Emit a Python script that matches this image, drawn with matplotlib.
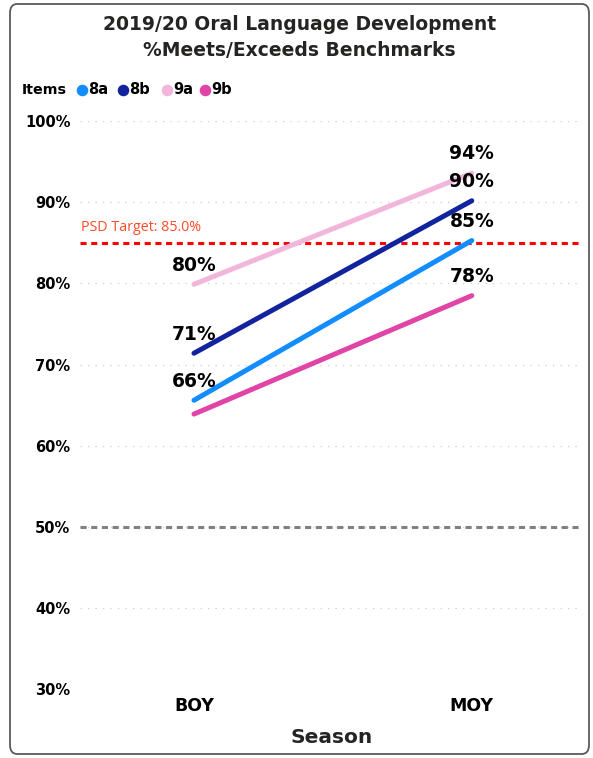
import matplotlib.pyplot as plt
from matplotlib.patches import FancyBboxPatch
from matplotlib.lines import Line2D

plt.rcParams['font.family'] = ['DejaVu Sans']

# Seasons and % meeting/exceeding benchmark per item
seasons = ['BOY', 'MOY']
items = ['8a', '8b', '9a', '9b']
pct_8a = [65.6, 85.3]
pct_8b = [71.4, 90.2]
pct_9a = [79.9, 93.6]
pct_9b = [63.9, 78.5]
# Labels shown above points (None = hidden)
labels_8a = ['66%', '85%']
labels_8b = ['71%', '90%']
labels_9a = ['80%', '94%']
labels_9b = [None, '78%']
target = 85.0
baseline = 50.0
yticks = [30, 40, 50, 60, 70, 80, 90, 100]

colors = ['#118DFF', '#12239E', '#F2B5DB', '#E044A7']
series = [pct_8a, pct_8b, pct_9a, pct_9b]
labels = [labels_8a, labels_8b, labels_9a, labels_9b]

W, H = 593, 758
fig = plt.figure(figsize=(W / 100, H / 100), dpi=100)
ax = fig.add_axes([0.135, 0.091, 0.848, 0.749])

# Rounded card border
fig.patches.append(FancyBboxPatch((10 / W, 4 / H), 579 / W, 750 / H,
                                  boxstyle='round,pad=0,rounding_size=0.012',
                                  transform=fig.transFigure, fill=False,
                                  edgecolor='#5A5A5A', linewidth=1.3))

x = list(range(len(seasons)))
for yv in yticks:
    ax.axhline(yv, color='#CFCFCF', linestyle=(0, (1, 5)), linewidth=0.9, zorder=0)

ax.axhline(baseline, color='#808080', linestyle=(0, (2, 1.5)), linewidth=2.2, zorder=1)
ax.axhline(target, color='#FF0000', linestyle=(0, (2, 1.5)), linewidth=2.2, zorder=1)
ax.text(-0.405, target + 1.0, 'PSD Target: 85.0%', color='#FF4B2B', fontsize=10.3,
        family=['Open Sans', 'DejaVu Sans'], va='bottom', ha='left')

for vals, labs, c in zip(series, labels, colors):
    ax.plot(x, vals, color=c, linewidth=3.6, solid_capstyle='round', zorder=3)
    for xi, v, lab in zip(x, vals, labs):
        if lab:
            ax.text(xi, v + 1.2, lab, ha='center', va='bottom', fontsize=13.5,
                    fontweight='bold', color='black', zorder=4)

ax.set_xlim(-0.41, 1.40)
ax.set_ylim(30, 100)
ax.set_yticks(yticks)
ax.set_yticklabels([f'{v}%' for v in yticks], fontsize=10.5, fontweight='bold')
ax.set_xticks(x)
ax.set_xticklabels(seasons, fontsize=12.5, fontweight='bold')
ax.tick_params(axis='y', length=0, pad=7)
ax.tick_params(axis='x', length=0, pad=6)
for s in ax.spines.values():
    s.set_visible(False)
ax.set_xlabel('Season', fontsize=14.5, fontweight='bold', color='#252423', labelpad=9)

fig.text(0.505, 1 - 24 / H, '2019/20 Oral Language Development', ha='center', va='center',
         fontsize=13.5, fontweight='bold', color='#252423')
fig.text(0.505, 1 - 50 / H, '%Meets/Exceeds Benchmarks', ha='center', va='center',
         fontsize=13.5, fontweight='bold', color='#252423')

# Legend row
leg_y = 1 - 90 / H
fig.text(22 / W, leg_y, 'Items', ha='left', va='center', fontsize=10.3, fontweight='bold')
dot_x = [82, 123, 167, 205]
for dx, name, c in zip(dot_x, items, colors):
    fig.add_artist(Line2D([dx / W], [leg_y], marker='o', markersize=7.3, linestyle='none',
                          markerfacecolor=c, markeredgecolor=c, transform=fig.transFigure))
    fig.text((dx + 6) / W, leg_y, name, ha='left', va='center', fontsize=10.5,
             fontweight='bold')

fig.savefig('out.png', dpi=100)
